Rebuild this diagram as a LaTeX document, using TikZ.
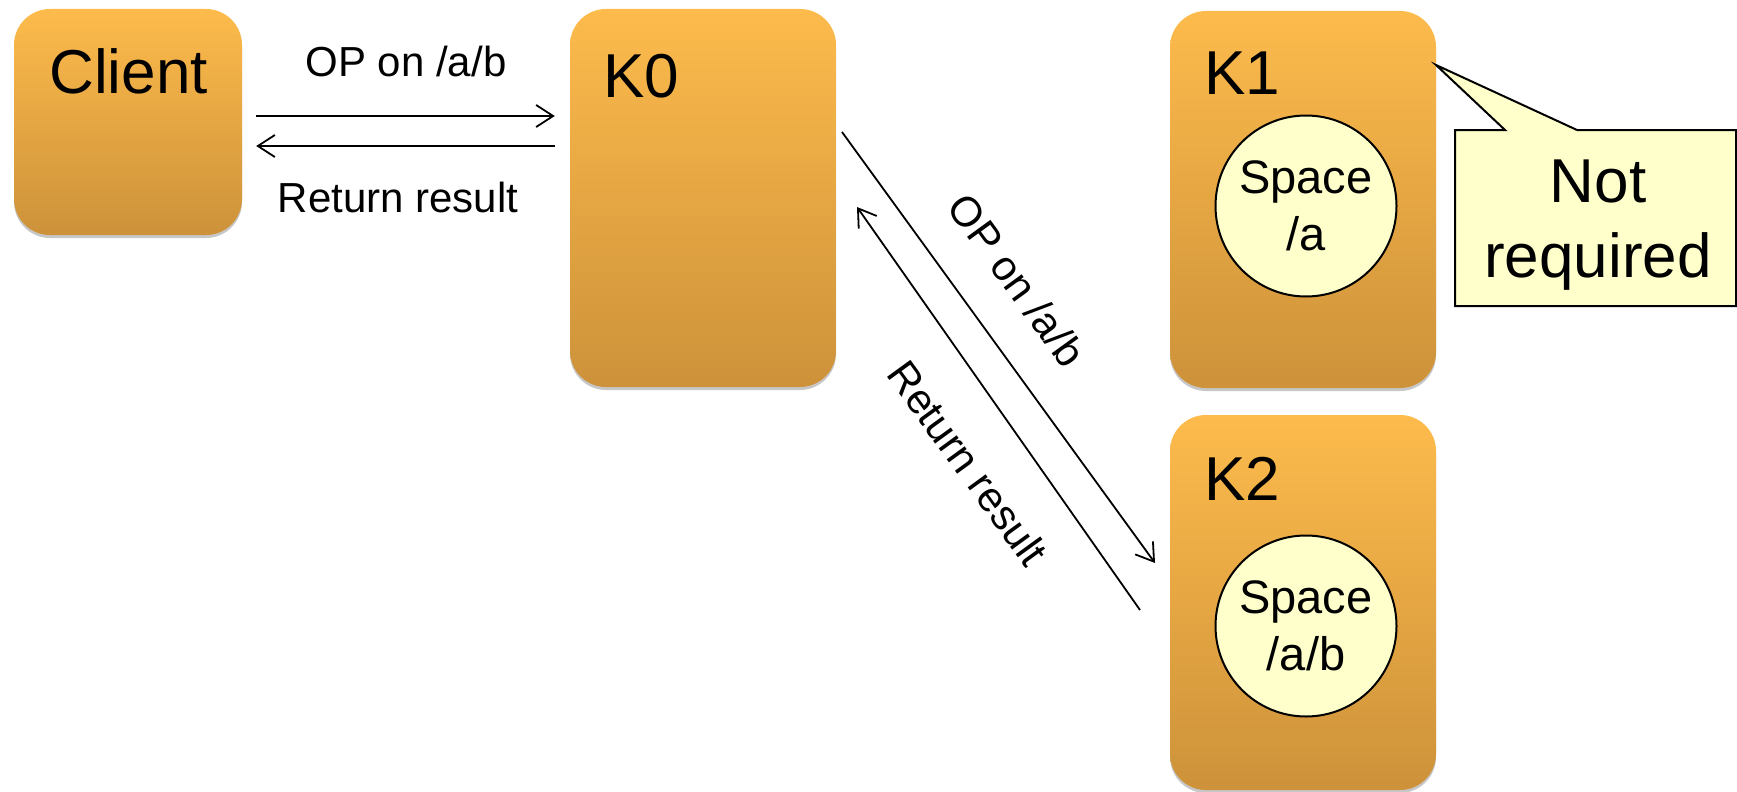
\documentclass[tikz,border=0pt]{standalone}
\usepackage{fontspec}
\setmainfont{Liberation Sans}
\usetikzlibrary{arrows.meta,shadows}
\definecolor{boxtop}{RGB}{253,187,76}
\definecolor{boxbot}{RGB}{205,146,58}
\definecolor{paleyellow}{RGB}{255,255,204}
\tikzset{
  server/.style={rectangle, rounded corners=36pt, top color=boxtop, bottom color=boxbot,
    draw=none, inner sep=0pt,
    drop shadow={shadow xshift=0pt, shadow yshift=-3pt, opacity=0.22, fill=black}},
  bigtext/.style={font=\fontsize{62}{75}\selectfont, inner sep=0pt},
  spacenode/.style={circle, draw=black, line width=2pt, fill=paleyellow, minimum size=181pt,
    inner sep=0pt, align=center, font=\fontsize{47}{57}\selectfont},
  lbl/.style={font=\fontsize{42}{50}\selectfont, inner sep=0pt},
  msg/.style={line width=1.8pt, -{Straight Barb[length=17pt,width=22pt,line width=1.8pt]}},
  callout/.style={line width=2pt, draw=black, fill=paleyellow},
}
\begin{document}
\begin{tikzpicture}[x=1pt,y=-1pt]
\useasboundingbox (0,0) rectangle (1737,792);
% servers
\node[server, minimum width=228pt, minimum height=226pt] (client) at (128,122) {};
\node[server, minimum width=266pt, minimum height=378pt] (k0) at (703,198) {};
\node[server, minimum width=266pt, minimum height=377pt] (k1) at (1303,199.5) {};
\node[server, minimum width=266pt, minimum height=375pt] (k2) at (1303,602.5) {};
% titles
\node[bigtext, anchor=base] (clientlbl) at (128.5,93) {Client};
\node[bigtext, anchor=base west] (k0lbl) at (603,97) {K0};
\node[bigtext, anchor=base west] (k1lbl) at (1204,95) {K1};
\node[bigtext, anchor=base west] (k2lbl) at (1204,500) {K2};
% spaces
\node[spacenode] (s1) at (1306,206) {Space\\/a};
\node[spacenode] (s2) at (1306,626) {Space\\/a/b};
% callout
\coordinate (tip) at (1436,65);
\draw[callout] (tip) -- (1577,130) -- (1736,130) -- (1736,306) -- (1455,306) -- (1455,130) -- (1505,130) -- cycle;
\node[bigtext, align=center] (note) at (1598,225) {Not\\required};
% client <-> k0
\draw[msg, shorten <=14pt, shorten >=15pt] ([yshift=6pt]client.east) -- ([yshift=6pt]client.east -| k0.west);
\draw[msg, shorten <=15pt, shorten >=14pt] ([yshift=-24pt]client.east -| k0.west) -- ([yshift=-24pt]client.east);
\node[lbl, anchor=base] (oplbl) at (406,77) {OP on /a/b};
\node[lbl, anchor=base] (retlbl) at (398,212) {Return result};
% k0 <-> k2
\coordinate (opstart) at (842,132);
\coordinate (opend) at (1155,563);
\coordinate (retstart) at (1140,610);
\coordinate (retend) at (857,207);
\draw[msg] (opstart) -- (opend);
\draw[msg] (retstart) -- (retend);
\node[lbl, rotate=-54] (oplbl2) at (1017,280) {OP on /a/b};
\node[lbl, rotate=-54] (retlbl2) at (968,463) {Return result};
\end{tikzpicture}
\end{document}
